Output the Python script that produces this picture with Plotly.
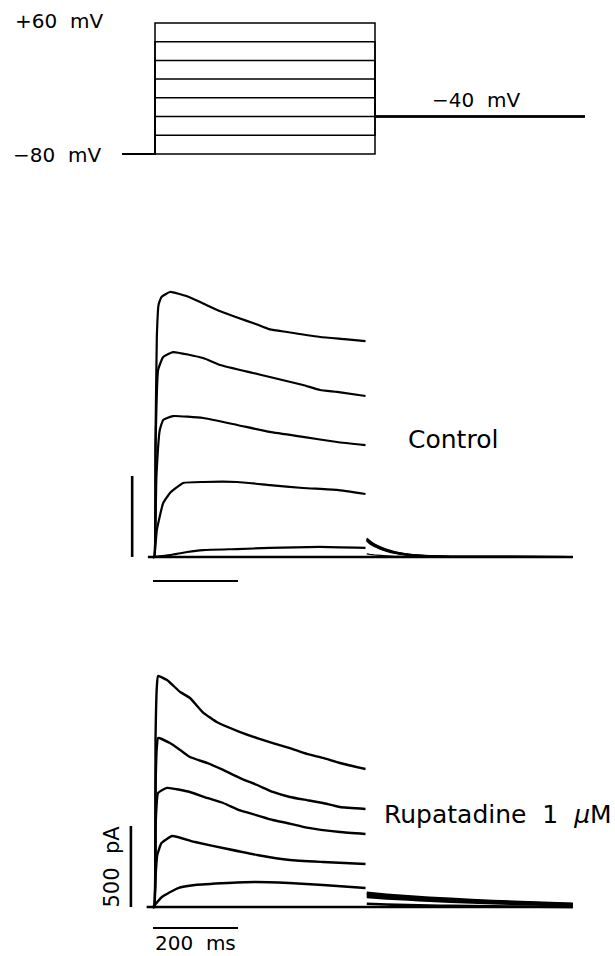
import plotly.graph_objects as go

W, H = 615, 956

# ---------------- DATA ----------------
# Voltage protocol (mV, ms)
step_voltages = [-80, -60, -40, -20, 0, 20, 40, 60]
holding_mv = -80
tail_mv = -40
protocol_times = [-75, 0, 500, 977]   # holding start, step on, step off, end

# Control currents (pA vs ms) during 500 ms step
ctrl_t1 = [0, 3, 6, 9, 13, 20, 40, 80, 118, 160, 198, 240, 275, 315, 393, 450, 500]
ctrl_i1 = [0, 0, 741, 1358, 1556, 1605, 1636, 1610, 1565, 1515, 1478, 1440, 1405, 1389, 1358, 1345, 1333]
ctrl_t2 = [0, 3, 6, 12, 24, 47, 118, 158, 235, 275, 353, 393, 433, 500]
ctrl_i2 = [0, 0, 679, 1154, 1235, 1265, 1228, 1185, 1136, 1111, 1062, 1031, 1019, 994]
ctrl_t3 = [0, 3, 8, 16, 24, 47, 118, 198, 275, 353, 433, 500]
ctrl_i3 = [0, 0, 494, 784, 846, 870, 858, 815, 772, 741, 710, 691]
ctrl_t4 = [0, 3, 9, 24, 40, 71, 118, 198, 275, 353, 433, 500]
ctrl_i4 = [0, 0, 167, 333, 395, 457, 463, 463, 444, 426, 414, 389]
ctrl_t5 = [0, 40, 80, 118, 198, 275, 393, 500]
ctrl_i5 = [0, 12, 31, 43, 49, 56, 62, 56]
ctrl_baseline_t = [-12, 988]
ctrl_baseline_i = [0, 0]
# Control tail currents at -40 mV
ctrl_tail_t = [503, 510, 520, 535, 550, 570, 600, 640, 700, 988]
ctrl_tail1 = [115, 98, 80, 60, 45, 30, 16, 7, 2, 0]
ctrl_tail2 = [110, 93, 76, 57, 42, 28, 15, 6, 2, 0]
ctrl_tail3 = [106, 89, 72, 54, 40, 26, 14, 6, 2, 0]
ctrl_tail4 = [100, 84, 68, 51, 37, 24, 13, 5, 2, 0]
ctrl_tail5 = [19, 16, 13, 10, 7, 4, 2, 1, 0, 0]

# Rupatadine 1 uM currents
rup_t1 = [0, 3, 6, 9, 12, 33, 64, 87, 118, 151, 205, 245, 282, 322, 362, 400, 440, 500]
rup_i1 = [0, 0, 1049, 1358, 1426, 1401, 1327, 1290, 1200, 1140, 1080, 1043, 1012, 981, 945, 920, 889, 852]
rup_t2 = [0, 3, 6, 9, 12, 40, 64, 87, 127, 165, 205, 245, 282, 322, 362, 400, 440, 500]
rup_i2 = [0, 0, 741, 988, 1043, 1012, 969, 926, 889, 846, 796, 753, 710, 679, 660, 642, 617, 605]
rup_t3 = [0, 3, 6, 12, 33, 87, 127, 165, 205, 245, 282, 322, 362, 440, 500]
rup_i3 = [0, 0, 494, 704, 735, 710, 673, 642, 596, 566, 537, 515, 490, 463, 451]
rup_t4 = [0, 3, 6, 10, 20, 45, 99, 176, 245, 322, 400, 500]
rup_i4 = [0, 0, 185, 321, 395, 438, 401, 358, 321, 290, 278, 265]
rup_t5 = [0, 21, 59, 99, 176, 240, 320, 400, 500]
rup_i5 = [0, 62, 117, 136, 148, 154, 148, 136, 117]
rup_baseline_t = [-15, 988]
rup_baseline_i = [0, 0]
rup_tail_t = [503, 550, 600, 650, 700, 800, 900, 988]
rup_tail1 = [88, 76, 66, 57, 50, 37, 27, 20]
rup_tail2 = [80, 69, 60, 52, 45, 33, 24, 17]
rup_tail3 = [72, 62, 54, 46, 40, 29, 21, 14]
rup_tail4 = [62, 53, 46, 39, 33, 23, 15, 10]
rup_tail5 = [20, 15, 12, 9, 7, 4, 2, 1]

# Scale bars
scale_ms = 200
scale_pa = 500

# ---------------- LAYOUT HELPERS ----------------
def ax_x(px0, px1, origin_px, px_per_unit):
    return dict(domain=[px0 / W, px1 / W],
                range=[(px0 - origin_px) / px_per_unit, (px1 - origin_px) / px_per_unit])

def ax_y(py_top, py_bot, origin_py, px_per_unit):
    return dict(domain=[1 - py_bot / H, 1 - py_top / H],
                range=[(origin_py - py_bot) / px_per_unit, (origin_py - py_top) / px_per_unit])

T_SCALE = 0.425      # px per ms (current panels)
I_SCALE = 0.162      # px per pA
V_SCALE = 0.936      # px per mV
P_SCALE = 0.44       # px per ms (protocol)

fig = go.Figure()
BLACK = "#000000"

def line(x, y, xa, ya, width=2.0):
    fig.add_trace(go.Scatter(x=x, y=y, mode="lines", xaxis=xa, yaxis=ya,
                             line=dict(color=BLACK, width=width, shape="spline", smoothing=0.4),
                             hoverinfo="skip", showlegend=False))

def straight(x, y, xa, ya, width=1.6):
    fig.add_trace(go.Scatter(x=x, y=y, mode="lines", xaxis=xa, yaxis=ya,
                             line=dict(color=BLACK, width=width),
                             hoverinfo="skip", showlegend=False))

# Protocol
t0, t_on, t_off, t_end = protocol_times
for v in step_voltages:
    straight([t0, t_on, t_on, t_off, t_off, t_end],
             [holding_mv, holding_mv, v, v, tail_mv, tail_mv], "x", "y", width=1.5)

# Control
straight(ctrl_baseline_t, ctrl_baseline_i, "x2", "y2", width=2.4)
for t, i in [(ctrl_t5, ctrl_i5), (ctrl_t4, ctrl_i4), (ctrl_t3, ctrl_i3), (ctrl_t2, ctrl_i2), (ctrl_t1, ctrl_i1)]:
    line(t, i, "x2", "y2", width=2.2)
line(ctrl_tail_t, ctrl_tail5, "x2", "y2", width=1.4)
for tail in [ctrl_tail4, ctrl_tail3, ctrl_tail2, ctrl_tail1]:
    line(ctrl_tail_t, tail, "x2", "y2", width=2.0)
# control scale bars
straight([0, scale_ms], [-148, -148], "x2", "y2", width=2.0)
straight([-49, -49], [0, scale_pa], "x2", "y2", width=2.6)

# Rupatadine
straight(rup_baseline_t, rup_baseline_i, "x3", "y3", width=2.4)
for t, i in [(rup_t5, rup_i5), (rup_t4, rup_i4), (rup_t3, rup_i3), (rup_t2, rup_i2), (rup_t1, rup_i1)]:
    line(t, i, "x3", "y3", width=2.4)
for tail in [rup_tail5, rup_tail4, rup_tail3, rup_tail2, rup_tail1]:
    line(rup_tail_t, tail, "x3", "y3", width=2.6)
straight([0, scale_ms], [-130, -130], "x3", "y3", width=2.0)
straight([-52, -52], [0, scale_pa], "x3", "y3", width=2.6)

hidden = dict(visible=False, showgrid=False, zeroline=False, fixedrange=True)

layout = dict(
    width=W, height=H, margin=dict(l=0, r=0, t=0, b=0),
    paper_bgcolor="white", plot_bgcolor="white", showlegend=False,
    xaxis=dict(**hidden, anchor="y", **ax_x(100, 600, 155, P_SCALE)),
    yaxis=dict(**hidden, anchor="x", **ax_y(5, 175, 154 - 80 * V_SCALE, V_SCALE)),
    xaxis2=dict(**hidden, anchor="y2", **ax_x(95, 610, 153, T_SCALE)),
    yaxis2=dict(**hidden, anchor="x2", **ax_y(270, 600, 557, I_SCALE)),
    xaxis3=dict(**hidden, anchor="y3", **ax_x(95, 610, 153, T_SCALE)),
    yaxis3=dict(**hidden, anchor="x3", **ax_y(650, 935, 907, I_SCALE)),
)

FONT = "DejaVu Sans"
def label(text, x, y, size, angle=0, xanchor="left"):
    return dict(text=text, x=x / W, y=1 - y / H, xref="paper", yref="paper",
                xanchor=xanchor, yanchor="middle", showarrow=False, textangle=angle,
                font=dict(family=FONT, size=size, color=BLACK))

layout["annotations"] = [
    label("+60\u00a0\u00a0mV", 13, 21.5, 20),
    label("\u221280\u00a0\u00a0mV", 11, 154.5, 20),
    label("\u221240\u00a0\u00a0mV", 430, 100, 20),
    label("Control", 406, 439, 25),
    label("Rupatadine\u00a0\u00a01\u00a0\u00a0<i>\u03bc</i>M", 382, 814, 25),
    label("200\u00a0\u00a0ms", 195, 942.5, 20, xanchor="center"),
    label("500\u00a0\u00a0pA", 111, 866.5, 21, angle=-90, xanchor="center"),
]

fig.update_layout(**layout)
fig.write_html("out.html", config={"displayModeBar": False, "staticPlot": True},
               post_script="document.body.style.margin='0px';document.body.style.overflow='hidden';")
